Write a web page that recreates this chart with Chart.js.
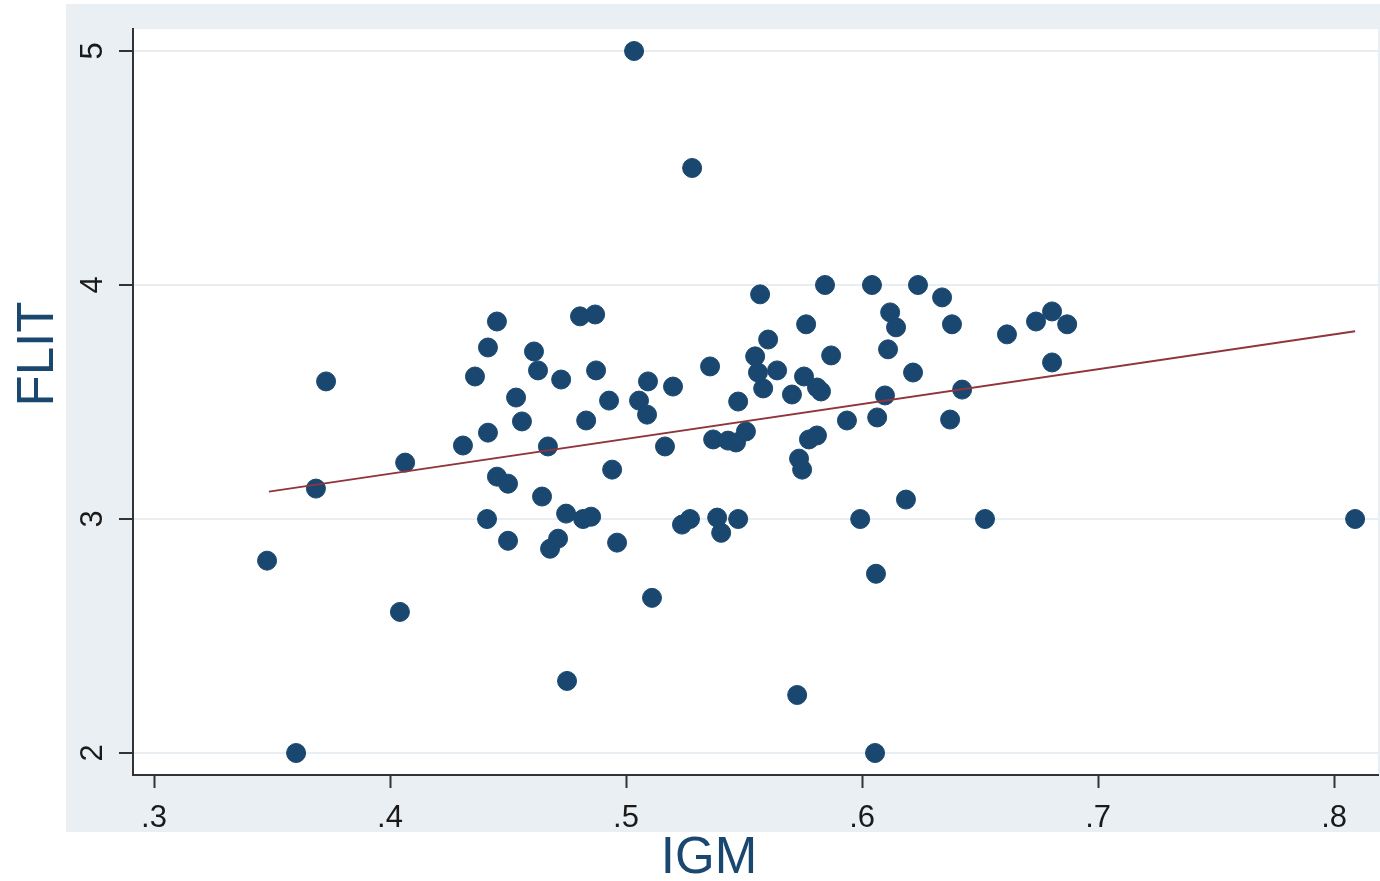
<!DOCTYPE html>
<html>
<head>
<meta charset="utf-8">
<script src="https://cdn.jsdelivr.net/npm/chart.js@4/dist/chart.umd.min.js"></script>
<style>
    body {
        margin: 0;
        background: #ffffff;
    }
    #scatter {
        display: block;
    }
</style>
</head>
<body>
<canvas id="scatter" width="1380" height="881"></canvas>

<script>
    // IGM (x) and FLIT (y)
    const igm = [
        0.5034, 0.528, 0.3479, 0.3602, 0.3686, 0.3729, 0.4042, 0.4064, 0.4309, 0.4360,
        0.4415, 0.4415, 0.4411, 0.4453, 0.4453, 0.4500, 0.4500, 0.4534, 0.4559, 0.4610,
        0.4627, 0.4644, 0.4669, 0.4678, 0.4712, 0.4725, 0.4746, 0.4750, 0.4805, 0.4831,
        0.4818, 0.4852, 0.4869, 0.4873, 0.4928, 0.4941, 0.4962, 0.5055, 0.5089, 0.5093,
        0.5110, 0.5165, 0.5199, 0.5237, 0.5271, 0.5356, 0.5369, 0.5386, 0.5403, 0.5432,
        0.5466, 0.5475, 0.5475, 0.5508, 0.5547, 0.5559, 0.5568, 0.5581, 0.5602, 0.5640,
        0.5703, 0.5725, 0.5733, 0.5746, 0.5754, 0.5763, 0.5775, 0.5809, 0.5809, 0.5826,
        0.5843, 0.5869, 0.5936, 0.5992, 0.6042, 0.6055, 0.6059, 0.6064, 0.6097, 0.6110,
        0.6119, 0.6144, 0.6186, 0.6216, 0.6237, 0.6339, 0.6373, 0.6381, 0.6424, 0.6521,
        0.6614, 0.6737, 0.6805, 0.6805, 0.6869, 0.8089
    ];
    const flit = [
        5.0, 4.50, 2.822, 2.0, 3.130, 3.588, 2.603, 3.241, 3.314, 3.609,
        3.369, 3.733, 3.0, 3.844, 3.181, 3.151, 2.907, 3.519, 3.417, 3.716,
        3.635, 3.096, 3.310, 2.873, 2.916, 3.596, 3.023, 2.308, 3.866, 3.421,
        3.0, 3.010, 3.874, 3.635, 3.506, 3.211, 2.899, 3.506, 3.446, 3.588,
        2.663, 3.310, 3.566, 2.976, 3.0, 3.652, 3.340, 3.006, 2.941, 3.335,
        3.327, 3.502, 3.0, 3.374, 3.695, 3.626, 3.960, 3.558, 3.767, 3.635,
        3.532, 2.248, 3.258, 3.211, 3.609, 3.832, 3.340, 3.562, 3.357, 3.545,
        4.0, 3.699, 3.421, 3.0, 4.0, 2.0, 2.766, 3.434, 3.528, 3.725,
        3.883, 3.819, 3.083, 3.626, 4.0, 3.947, 3.425, 3.832, 3.553, 3.0,
        3.789, 3.844, 3.887, 3.669, 3.832, 3.0
    ];

    // fitted line end points
    const fitX = [0.3487, 0.8089];
    const fitY = [3.117, 3.802];

    const xTicks = [0.3, 0.4, 0.5, 0.6, 0.7, 0.8];
    const yTicks = [2, 3, 4, 5];

    const navy = '#1a476f';
    const maroon = '#90353b';
    const regionGray = '#e9eff2';
    const tickFont = '31px "Liberation Sans", Arial, sans-serif';

    const stataBackground = {
        id: 'stataBackground',
        beforeDraw(chart) {
            const c = chart.ctx;
            const a = chart.chartArea;
            c.save();
            c.fillStyle = '#ffffff';
            c.fillRect(0, 0, chart.width, chart.height);
            c.fillStyle = regionGray;
            c.fillRect(a.left - 67, a.top - 25, chart.width - (a.left - 67), a.bottom - a.top + 82);
            c.fillStyle = '#ffffff';
            c.fillRect(a.left, a.top, a.right - a.left, a.bottom - a.top);
            c.restore();
        },
        afterDraw(chart) {
            const c = chart.ctx;
            const a = chart.chartArea;
            const ys = chart.scales.y;
            c.save();
            // rotated y tick labels
            c.fillStyle = '#1a1a1a';
            c.font = tickFont;
            c.textAlign = 'center';
            c.textBaseline = 'alphabetic';
            yTicks.forEach(v => {
                c.save();
                c.translate(a.left - 31, ys.getPixelForValue(v));
                c.rotate(-Math.PI / 2);
                c.fillText(String(v), 0, 0);
                c.restore();
            });
            // axis titles
            c.fillStyle = navy;
            c.font = '51px "Liberation Sans", Arial, sans-serif';
            c.fillText('IGM', 709, 873);
            c.translate(53, 354);
            c.rotate(-Math.PI / 2);
            c.fillText('FLIT', 0, 0);
            c.restore();
        }
    };

    const ctx = document.getElementById('scatter').getContext('2d');

    const scatterChart = new Chart(ctx, {
        type: 'scatter',
        data: {
            datasets: [{
                type: 'line',
                label: 'Fitted values',
                data: fitX.map((x, i) => ({x: x, y: fitY[i]})),
                borderColor: maroon,
                borderWidth: 2,
                pointRadius: 0,
                fill: false,
                order: 0
            }, {
                label: 'FLIT',
                data: igm.map((x, i) => ({x: x, y: flit[i]})),
                backgroundColor: navy,
                borderColor: navy,
                borderWidth: 1,
                pointRadius: 9.5,
                order: 1
            }]
        },
        options: {
            responsive: false,
            animation: false,
            layout: {
                autoPadding: false,
                padding: {left: 0, right: 2, top: 29, bottom: 0}
            },
            plugins: {
                legend: { display: false },
                tooltip: { enabled: false }
            },
            scales: {
                x: {
                    type: 'linear',
                    min: 0.2911,
                    max: 0.8186,
                    afterBuildTicks: scale => { scale.ticks = xTicks.map(v => ({value: v})); },
                    afterFit: scale => {
                        scale.height = 106;
                        scale.paddingLeft = 0;
                        scale.paddingRight = 0;
                    },
                    grid: {
                        drawOnChartArea: false,
                        tickLength: 13,
                        tickColor: '#333333',
                        tickWidth: 2
                    },
                    border: { color: '#333333', width: 2 },
                    ticks: {
                        color: '#1a1a1a',
                        font: { family: '"Liberation Sans", Arial, sans-serif', size: 31 },
                        padding: 12,
                        maxRotation: 0,
                        callback: v => String(v).replace(/^0/, '')
                    }
                },
                y: {
                    type: 'linear',
                    min: 1.906,
                    max: 5.094,
                    afterBuildTicks: scale => { scale.ticks = yTicks.map(v => ({value: v})); },
                    afterFit: scale => {
                        scale.width = 133;
                        scale.paddingTop = 0;
                        scale.paddingBottom = 0;
                    },
                    grid: {
                        color: '#e8eef1',
                        lineWidth: 2,
                        tickLength: 14,
                        tickColor: '#333333',
                        tickWidth: 2
                    },
                    border: { color: '#333333', width: 2 },
                    ticks: { display: false }
                }
            }
        },
        plugins: [stataBackground]
    });
</script>
</body>
</html>
